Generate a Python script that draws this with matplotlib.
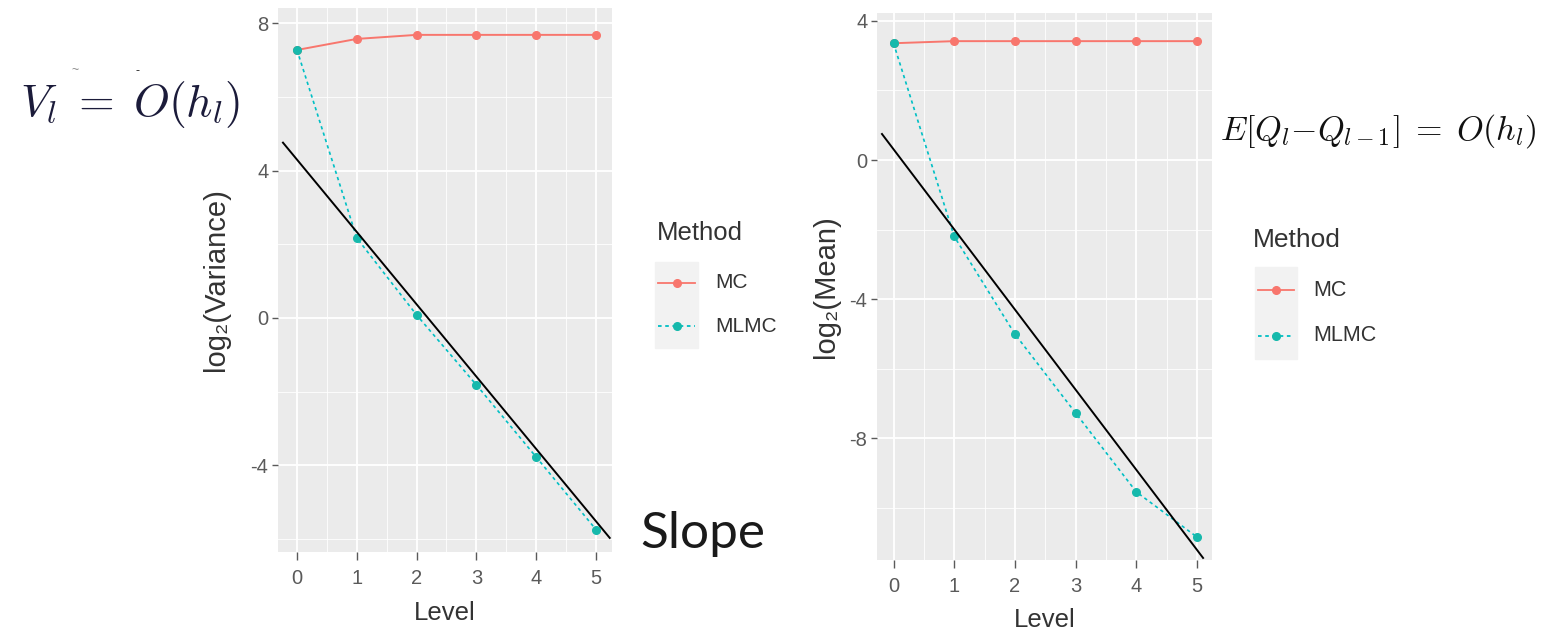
import numpy as np
import matplotlib
matplotlib.use("Agg")
import matplotlib.pyplot as plt
from matplotlib.lines import Line2D
from matplotlib.patches import Rectangle

plt.rcParams["font.family"] = ["Liberation Sans", "DejaVu Sans"]
plt.rcParams["mathtext.fontset"] = "cm"
plt.rcParams["axes.unicode_minus"] = False

# ── data ──
levels = [0, 1, 2, 3, 4, 5]
methods = ["MC", "MLMC"]

var_mc = [7.28, 7.58, 7.69, 7.69, 7.69, 7.69]
var_mlmc = [7.28, 2.17, 0.08, -1.82, -3.78, -5.75]
mean_mc = [3.36, 3.42, 3.42, 3.42, 3.42, 3.42]
mean_mlmc = [3.36, -2.20, -5.01, -7.28, -9.55, -10.85]

# reference slope lines: (intercept, slope, level range)
var_ref = (4.30, -1.965, (-0.235, 5.23))
mean_ref = (0.31, -2.306, (-0.19, 5.10))

var_yticks = [-4, 0, 4, 8]
mean_yticks = [-8, -4, 0, 4]

W, H = 1549, 632
MC_COL = "#F8766D"
MLMC_COL = "#00BFC4"
MLMC_PT = "#16B9AC"
PANEL_BG = "#EBEBEB"


def fx(x):
    return x / W


def fy(y):
    return 1 - y / H


def px_axes(fig, x0, y0, x1, y1):
    return fig.add_axes([fx(x0), fy(y1), (x1 - x0) / W, (y1 - y0) / H])


def style_panel(ax, xlim, ylim, yticks, yminor):
    ax.set_facecolor(PANEL_BG)
    ax.set_xlim(*xlim)
    ax.set_ylim(*ylim)
    ax.set_xticks(levels)
    ax.set_xticks([0.5, 1.5, 2.5, 3.5, 4.5], minor=True)
    ax.set_yticks(yticks)
    ax.set_yticks(yminor, minor=True)
    ax.grid(which="major", color="white", linewidth=1.3)
    ax.grid(which="minor", color="white", linewidth=0.6)
    ax.set_axisbelow(True)
    for s in ax.spines.values():
        s.set_visible(False)
    ax.tick_params(which="minor", length=0)
    ax.tick_params(axis="both", which="major", colors="#5a5a5a",
                   labelsize=14.5, width=1.0)
    ax.tick_params(axis="y", length=4, pad=3)
    ax.tick_params(axis="x", length=6, pad=6)


def draw_series(ax, mc, mlmc, ref):
    ax.plot(levels, mc, color=MC_COL, lw=1.4, marker="o", ms=5.5,
            mfc=MC_COL, mec=MC_COL, zorder=3)
    ax.plot(levels, mlmc, color=MLMC_COL, lw=1.2, ls=(0, (2, 2)),
            zorder=3)
    ax.plot(levels, mlmc, ls="none", marker="o", ms=5.5, color=MLMC_PT,
            zorder=4)
    b, m, (x0, x1) = ref
    xs = np.array([x0, x1])
    ax.plot(xs, b + m * xs, color="black", lw=1.4, zorder=5)


def draw_legend(fig, tx, ty, kx0, kx1, ky, kh, lx, title_size, label_size):
    fig.text(fx(tx), fy(ty), "Method", fontsize=title_size, color="#333333",
             ha="left", va="center")
    top = ky[0] - kh / 2
    fig.add_artist(Rectangle((fx(kx0), fy(top + kh * len(ky))),
                             (kx1 - kx0) / W, kh * len(ky) / H,
                             transform=fig.transFigure, color="#F2F2F2",
                             zorder=0))
    styles = [dict(color=MC_COL, ls="-", mc=MC_COL),
              dict(color=MLMC_COL, ls=(0, (2, 2)), mc=MLMC_PT)]
    for name, yc, st in zip(methods, ky, styles):
        fig.add_artist(Line2D([fx(kx0 + 3), fx(kx1 - 3)], [fy(yc), fy(yc)],
                              transform=fig.transFigure, color=st["color"],
                              ls=st["ls"], lw=1.3))
        fig.add_artist(Line2D([fx((kx0 + kx1) / 2)], [fy(yc)],
                              transform=fig.transFigure, marker="o", ms=5.5,
                              color=st["mc"], ls="none"))
        fig.text(fx(lx), fy(yc), name, fontsize=label_size, color="#333333",
                 ha="left", va="center")


fig = plt.figure(figsize=(W / 100, H / 100), dpi=100)

# left panel: variance
ax1 = px_axes(fig, 278, 8, 612, 552)
style_panel(ax1, (-0.318, 5.268), (-6.36, 8.42), var_yticks, [-6, -2, 2, 6])
draw_series(ax1, var_mc, var_mlmc, var_ref)
ax1.set_xlabel("Level", fontsize=18.5, color="#333333")
ax1.xaxis.set_label_coords(0.5, -(613 - 552) / 544)
ax1.xaxis.label.set_va("center")
ax1.set_ylabel("log₂(Variance)", fontsize=21, color="#333333")
ax1.yaxis.set_label_coords((216 - 278) / 334, 0.5)
ax1.yaxis.label.set_va("center")

# right panel: mean
ax2 = px_axes(fig, 877, 13, 1212, 560)
style_panel(ax2, (-0.272, 5.247), (-11.51, 4.23), mean_yticks,
            [-10, -6, -2, 2])
draw_series(ax2, mean_mc, mean_mlmc, mean_ref)
ax2.set_xlabel("Level", fontsize=18.5, color="#333333")
ax2.xaxis.set_label_coords(0.5, -(620 - 560) / 547)
ax2.xaxis.label.set_va("center")
ax2.set_ylabel("log₂(Mean)", fontsize=21, color="#333333")
ax2.yaxis.set_label_coords((826 - 877) / 335, 0.5)
ax2.yaxis.label.set_va("center")

draw_legend(fig, 657, 233, 655, 698, [283, 326], 43, 715, 18.5, 15)
draw_legend(fig, 1253, 240, 1255, 1297, [290, 336], 46, 1313, 19, 15.5)

# annotations
fig.text(fx(20), fy(105), r"$V_l\;=\;O(h_l)$", fontsize=33, color="#1b1b3a",
         ha="left", va="center")
fig.text(fx(75), fy(70), "~", fontsize=9, color="#888888", ha="center",
         va="center")
fig.text(fx(137), fy(71), "-", fontsize=9, color="#222222", ha="center",
         va="center")
fig.text(fx(1220), fy(131), r"$E[Q_l{-}Q_{l-1}]\;=\;O(h_l)$", fontsize=24.5,
         color="#111111", ha="left", va="center")
fig.text(fx(640), fy(534), "Slope", fontsize=37, family="Lato",
         color="#1a1a1a", ha="left", va="center")

fig.savefig("out.png", dpi=100)
